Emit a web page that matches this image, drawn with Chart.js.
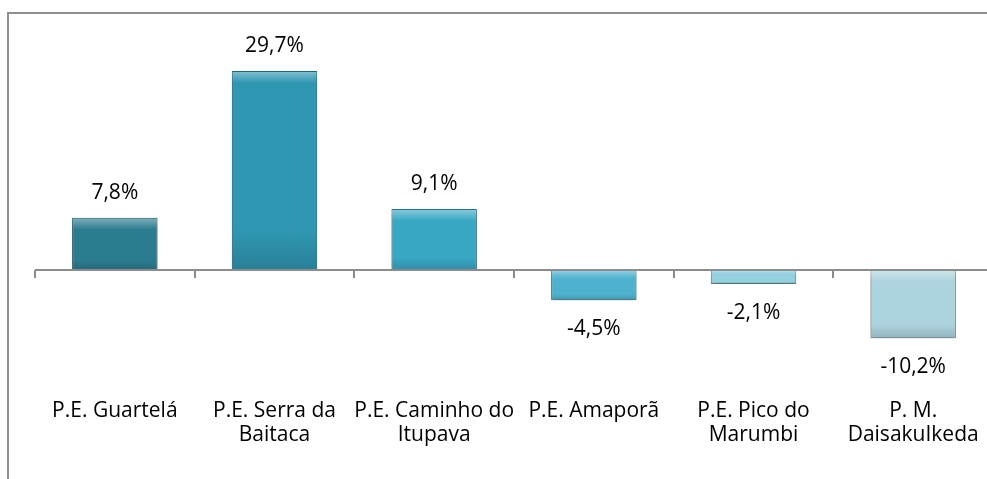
<!DOCTYPE html>
<html lang="pt">
	<head>
		<meta charset="UTF-8">
		<title>Variação</title>
		<style>
			html, body { margin: 0; padding: 0; background: #fff; overflow: hidden; }
			#wrap { position: relative; width: 993px; height: 479px; }
			#chart { display: block; }
			#frame { position: absolute; left: 7px; top: 12px; width: 990px; height: 480px;
				border-top: 2px solid #8f8f8f; border-left: 2px solid #8f8f8f; pointer-events: none; }
		</style>
	</head>
	<body>
		<div id="wrap">
			<canvas id="chart" width="993" height="479"></canvas>
			<div id="frame"></div>
		</div>
		<script src="https://cdn.jsdelivr.net/npm/chart.js"></script>
		<script>
			// dados
			const categorias = [
				['P.E. Guartelá'],
				['P.E. Serra da', 'Baitaca'],
				['P.E. Caminho do', 'Itupava'],
				['P.E. Amaporã'],
				['P.E. Pico do', 'Marumbi'],
				['P. M.', 'DaisakuIkeda']
			];
			const variacao = [7.8, 29.7, 9.1, -4.5, -2.1, -10.2];
			const eixoMin = -15;
			const eixoMax = 35;

			// cores das barras
			const cores = ['#2b7c8f', '#2f97b2', '#38a7c4', '#4eb2ce', '#94d0df', '#acd3de'];
			const fonte = "'Open Sans', sans-serif";

			function clarear(hex, f) {
				const n = parseInt(hex.slice(1), 16);
				let r = n >> 16, g = (n >> 8) & 255, b = n & 255;
				r = Math.round(r + (255 - r) * f); g = Math.round(g + (255 - g) * f); b = Math.round(b + (255 - b) * f);
				return 'rgb(' + r + ',' + g + ',' + b + ')';
			}
			function escurecer(hex, f) {
				const n = parseInt(hex.slice(1), 16);
				let r = n >> 16, g = (n >> 8) & 255, b = n & 255;
				return 'rgb(' + Math.round(r * f) + ',' + Math.round(g * f) + ',' + Math.round(b * f) + ')';
			}

			// preenchimento com degradê
			function fundo(context) {
				const chart = context.chart;
				const cor = cores[context.dataIndex];
				if (!chart.chartArea || !chart.scales.y) return cor;
				const v = variacao[context.dataIndex];
				const y = chart.scales.y;
				const topo = y.getPixelForValue(Math.max(v, 0));
				const base = y.getPixelForValue(Math.min(v, 0));
				if (base - topo < 2) return cor;
				const g = chart.ctx.createLinearGradient(0, topo, 0, base);
				g.addColorStop(0, clarear(cor, 0.4));
				g.addColorStop(Math.min(0.2, 9 / (base - topo)), clarear(cor, 0.1));
				g.addColorStop(Math.min(0.3, 12 / (base - topo)), cor);
				g.addColorStop(0.8, cor);
				g.addColorStop(1, escurecer(cor, 0.85));
				return g;
			}

			const eixoZero = {
				id: 'eixoZero',
				beforeDatasetsDraw(chart) {
					const ctx = chart.ctx;
					ctx.save();
					ctx.shadowColor = 'rgba(0,0,0,0.3)';
					ctx.shadowBlur = 6;
					ctx.shadowOffsetY = 3;
				},
				afterDatasetsDraw(chart) {
					const ctx = chart.ctx;
					ctx.restore();
					const x = chart.scales.x, y = chart.scales.y;
					const y0 = y.getPixelForValue(0);
					const passo = x.getPixelForValue(1) - x.getPixelForValue(0);
					ctx.save();
					ctx.strokeStyle = '#8c8c8c';
					ctx.lineWidth = 2;
					ctx.beginPath();
					ctx.moveTo(chart.chartArea.left, y0);
					ctx.lineTo(chart.chartArea.right, y0);
					for (let i = 0; i <= categorias.length; i++) {
						const px = Math.round(x.getPixelForValue(i) - passo / 2);
						ctx.moveTo(px, y0);
						ctx.lineTo(px, y0 + 8);
					}
					ctx.stroke();

					// rótulos de valor
					ctx.fillStyle = '#000';
					ctx.font = '21px ' + fonte;
					ctx.textAlign = 'center';
					ctx.textBaseline = 'middle';
					chart.getDatasetMeta(0).data.forEach((bar, i) => {
						const v = variacao[i];
						const txt = v.toFixed(1).replace('.', ',') + '%';
						const py = v >= 0 ? bar.y - 25 : bar.y + 29;
						ctx.fillText(txt, bar.x, py);
					});
					ctx.restore();
				}
			};

			new Chart(document.getElementById('chart'), {
				type: 'bar',
				data: {
					labels: categorias,
					datasets: [{
						data: variacao,
						backgroundColor: fundo,
						borderColor: cores.map(c => escurecer(c, 0.7)),
						borderWidth: 1,
						borderSkipped: false,
						barPercentage: 0.535,
						categoryPercentage: 1
					}]
				},
				options: {
					responsive: false,
					animation: false,
					devicePixelRatio: 1,
					layout: { padding: { top: 35.5, left: 35, right: 0, bottom: 31.7 } },
					plugins: { legend: { display: false }, tooltip: { enabled: false } },
					scales: {
						x: {
							grid: { display: false, drawTicks: false },
							border: { display: false },
							ticks: {
								color: '#000',
								font: { family: fonte, size: 21, lineHeight: 1.15 },
								padding: 28.5,
								maxRotation: 0,
								autoSkip: false
							},
							afterFit(scale) {
								scale.height = 76.8;
								scale.paddingLeft = 0;
								scale.paddingRight = 0;
							}
						},
						y: { display: false, min: eixoMin, max: eixoMax }
					}
				},
				plugins: [eixoZero]
			});
		</script>
	</body>
</html>
